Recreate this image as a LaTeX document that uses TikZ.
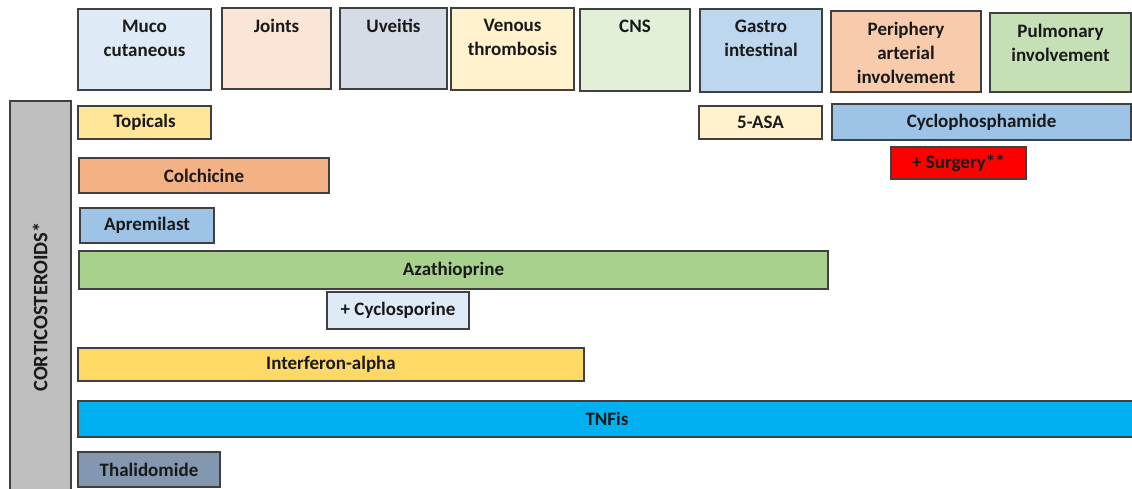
\documentclass[tikz,border=0pt]{standalone}
\usepackage{fontspec}
\setmainfont{Carlito}
\begin{document}
\begin{tikzpicture}[x=1pt,y=-1pt,
  box/.style={draw=black!75, line width=1.2pt, rectangle, inner sep=0pt, font=\bfseries\fontsize{19}{24}\selectfont, text=black!90},
  head/.style={box},
  htext/.style={anchor=north, align=center, inner sep=0pt, font=\bfseries\fontsize{19}{24}\selectfont, text=black!90}]
\definecolor{cmuco}{HTML}{DEEBF7}
\definecolor{cjoint}{HTML}{FBE5D6}
\definecolor{cuv}{HTML}{D6DCE5}
\definecolor{cven}{HTML}{FFF2CC}
\definecolor{ccns}{HTML}{E2F0D9}
\definecolor{cgas}{HTML}{BDD7EE}
\definecolor{cper}{HTML}{F8CBAD}
\definecolor{cpul}{HTML}{C5E0B4}
\definecolor{ctop}{HTML}{FFE699}
\definecolor{ccol}{HTML}{F4B183}
\definecolor{capr}{HTML}{9DC3E6}
\definecolor{caza}{HTML}{A9D18E}
\definecolor{cint}{HTML}{FFD966}
\definecolor{ctnf}{HTML}{00B0F0}
\definecolor{ctha}{HTML}{8497B0}
\definecolor{ccor}{HTML}{BFBFBF}
\useasboundingbox (0,0) rectangle (1132,488);
\begin{scope}
\clip (0,0) rectangle (1132,488);
% header boxes
\node[head, fill=cmuco, minimum width=133, minimum height=81] (muco) at (144.5,49.5) {};
\node[htext] (tmuco) at ([yshift=-11.5pt]muco.north) {Muco\\cutaneous};
\node[head, fill=cjoint, minimum width=109, minimum height=81] (joint) at (276.5,48.5) {};
\node[htext] (tjoint) at ([yshift=-11.5pt]joint.north) {Joints};
\node[head, fill=cuv, minimum width=107, minimum height=81] (uv) at (393.5,48.5) {};
\node[htext] (tuv) at ([yshift=-11.5pt]uv.north) {Uveitis};
\node[head, fill=cven, minimum width=123, minimum height=82] (ven) at (512.5,49) {};
\node[htext] (tven) at ([yshift=-11.5pt]ven.north) {Venous\\thrombosis};
\node[head, fill=ccns, minimum width=110, minimum height=82] (cns) at (635,50) {};
\node[htext] (tcns) at ([yshift=-11.5pt]cns.north) {CNS};
\node[head, fill=cgas, minimum width=122, minimum height=83] (gas) at (761,50.5) {};
\node[htext] (tgas) at ([yshift=-11.5pt]gas.north) {Gastro\\intestinal};
\node[head, fill=cper, minimum width=150, minimum height=81] (per) at (906,51.5) {};
\node[htext] (tper) at ([yshift=-11.5pt]per.north) {Periphery\\arterial\\involvement};
\node[head, fill=cpul, minimum width=141, minimum height=79] (pul) at (1060.5,52.5) {};
\node[htext] (tpul) at ([yshift=-11.5pt]pul.north) {Pulmonary\\involvement};
% rows
\node[box, fill=ccor, minimum width=61, minimum height=390] (cor) at (40.5,296) {};
\node[rotate=90, font=\bfseries\fontsize{20.5}{24}\selectfont, text=black!90] (tcor) at (40,307) {CORTICOSTEROIDS*};
\node[box, fill=ctop, minimum width=133, minimum height=33] (top) at (144.5,122.5) {Topicals};
\node[box, fill=ccol, minimum width=250, minimum height=35] (col) at (204,175.5) {Colchicine};
\node[box, fill=capr, minimum width=134, minimum height=35] (apr) at (147,225.5) {Apremilast};
\node[box, fill=caza, minimum width=749, minimum height=38] (aza) at (453.5,270) {Azathioprine};
\node[box, fill=cmuco, minimum width=142, minimum height=37] (cyc) at (398,310.5) {+ Cyclosporine};
\node[box, fill=cint, minimum width=506, minimum height=33] (int) at (331,364.5) {Interferon-alpha};
\node[box, fill=ctnf, minimum width=1058, minimum height=36] (tnf) at (607,419) {TNFis};
\node[box, fill=ctha, minimum width=142, minimum height=35] (tha) at (149,469.5) {Thalidomide};
\node[box, fill=cven, minimum width=123, minimum height=33] (asa) at (760.5,122.5) {5-ASA};
\node[box, fill=capr, minimum width=299, minimum height=36] (cph) at (981.5,122) {Cyclophosphamide};
\node[box, fill=red, minimum width=135, minimum height=32] (sur) at (958.5,163) {+ Surgery**};
\end{scope}
\end{tikzpicture}
\end{document}
